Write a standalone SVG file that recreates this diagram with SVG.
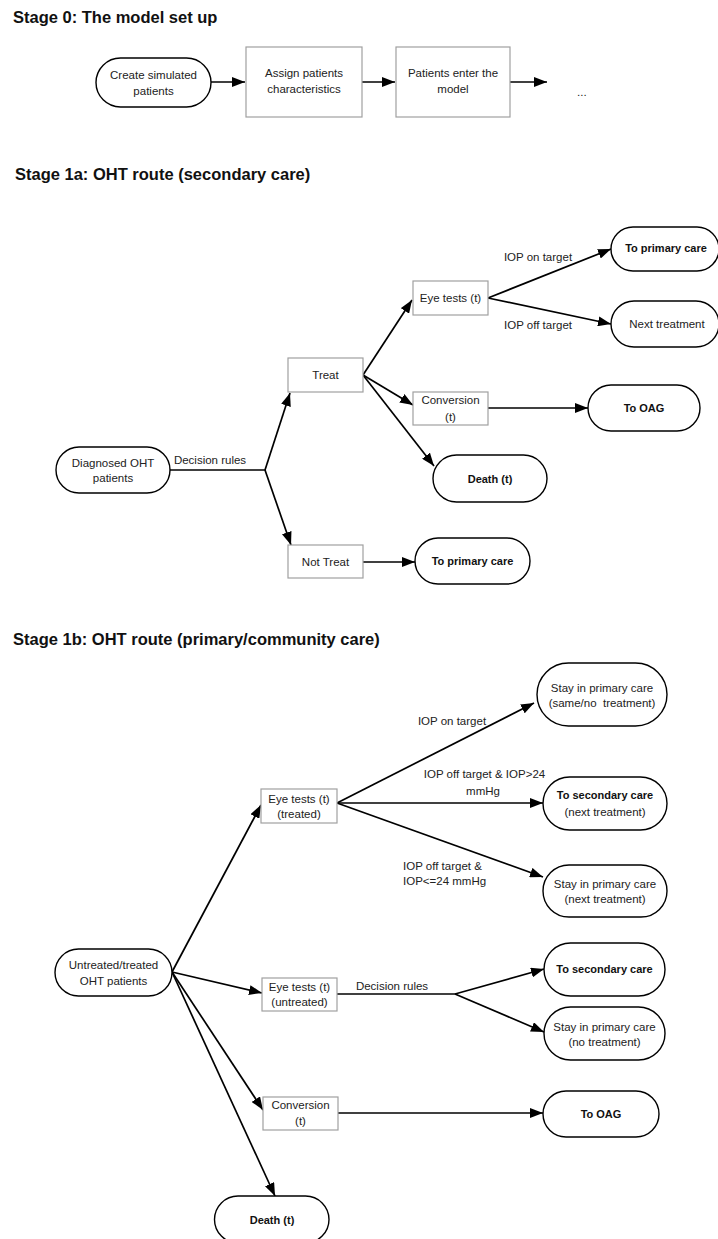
<svg xmlns="http://www.w3.org/2000/svg" width="718" height="1239" viewBox="0 0 718 1239">
<style>
text{font-family:"Liberation Sans",Arial,sans-serif;fill:#222}
.t{font-size:16.5px;font-weight:bold;fill:#111}
.r{font-size:11.5px;text-anchor:middle}
.l{font-size:11.5px}
.b{font-size:11px;font-weight:bold;text-anchor:middle;fill:#111}
.st{fill:#fff;stroke:#000;stroke-width:1.4}
.bx{fill:#fff;stroke:#a0a0a0;stroke-width:1.2}
.c line{stroke:#000;stroke-width:1.7;fill:none}
.a{marker-end:url(#ah)}
</style>
<defs>
<marker id="ah" markerUnits="userSpaceOnUse" markerWidth="13" markerHeight="10" refX="13" refY="5" orient="auto">
<path d="M0,0 L13,5 L0,10 z" fill="#000"/>
</marker>
</defs>
<rect width="718" height="1239" fill="#fff"/>

<text class="t" x="13" y="23">Stage 0: The model set up</text>
<text class="t" x="15" y="180">Stage 1a: OHT route (secondary care)</text>
<text class="t" x="13" y="645">Stage 1b: OHT route (primary/community care)</text>

<g class="c" id="connectors">
<line class="a" x1="211" y1="82" x2="245" y2="82"/>
<line class="a" x1="362" y1="82" x2="395" y2="82"/>
<line class="a" x1="510" y1="82" x2="547" y2="82"/>
<line x1="170" y1="470" x2="265" y2="470"/>
<line class="a" x1="265" y1="470" x2="290" y2="393"/>
<line class="a" x1="265" y1="470" x2="291" y2="545"/>
<line class="a" x1="363" y1="375" x2="412" y2="300"/>
<line class="a" x1="363" y1="375" x2="413" y2="405"/>
<line class="a" x1="363" y1="375" x2="434" y2="466"/>
<line class="a" x1="488" y1="298" x2="611" y2="249"/>
<line class="a" x1="488" y1="298" x2="611" y2="324"/>
<line class="a" x1="488" y1="408" x2="588" y2="408"/>
<line class="a" x1="363" y1="562" x2="415" y2="562"/>
<line class="a" x1="172" y1="972" x2="261" y2="805"/>
<line class="a" x1="172" y1="972" x2="262" y2="993"/>
<line class="a" x1="172" y1="972" x2="263" y2="1110"/>
<line class="a" x1="172" y1="972" x2="275" y2="1196"/>
<line class="a" x1="337" y1="803" x2="534" y2="703"/>
<line class="a" x1="337" y1="803" x2="543" y2="803"/>
<line class="a" x1="337" y1="803" x2="543" y2="877"/>
<line x1="337" y1="994" x2="455" y2="994"/>
<line class="a" x1="455" y1="994" x2="544" y2="969"/>
<line class="a" x1="455" y1="994" x2="544" y2="1032"/>
<line class="a" x1="338" y1="1113" x2="543" y2="1113"/>
</g>

<g id="labels">
<text class="l" x="577" y="96">...</text>
<text class="r" x="210" y="464">Decision rules</text>
<text class="r" x="538" y="261">IOP on target</text>
<text class="r" x="538" y="329">IOP off target</text>
<text class="r" x="452" y="725">IOP on target</text>
<text class="r" x="484.5" y="778">IOP off target &amp; IOP&gt;24</text>
<text class="r" x="483" y="795">mmHg</text>
<text class="l" x="403" y="870">IOP off target &amp;</text>
<text class="l" x="403" y="885">IOP&lt;=24 mmHg</text>
<text class="r" x="392" y="990">Decision rules</text>
</g>

<g id="create-simulated">
<rect class="st" x="96" y="58" width="115" height="49" rx="24.5"/>
<text class="r" x="153.5" y="79">Create simulated</text>
<text class="r" x="153.5" y="95">patients</text>
</g>
<g id="assign-characteristics">
<rect class="bx" x="246" y="47" width="116" height="70"/>
<text class="r" x="304" y="77">Assign patients</text>
<text class="r" x="304" y="93">characteristics</text>
</g>
<g id="patients-enter">
<rect class="bx" x="396" y="47" width="114" height="70"/>
<text class="r" x="453" y="77">Patients enter the</text>
<text class="r" x="453" y="93">model</text>
</g>

<g id="diagnosed-oht">
<rect class="st" x="56" y="447" width="114" height="46" rx="23"/>
<text class="r" x="113" y="467">Diagnosed OHT</text>
<text class="r" x="113" y="482">patients</text>
</g>
<g id="treat">
<rect class="bx" x="288" y="358" width="75" height="34"/>
<text class="r" x="325.5" y="379">Treat</text>
</g>
<g id="not-treat">
<rect class="bx" x="288" y="545" width="75" height="33"/>
<text class="r" x="325.5" y="566">Not Treat</text>
</g>
<g id="primary-care-1a-bottom">
<rect class="st" x="415" y="538" width="115" height="46" rx="23"/>
<text class="b" x="472.5" y="565">To primary care</text>
</g>
<g id="eye-tests-1a">
<rect class="bx" x="413" y="281" width="75" height="34"/>
<text class="r" x="450.5" y="302">Eye tests (t)</text>
</g>
<g id="conversion-1a">
<rect class="bx" x="413" y="392" width="75" height="33"/>
<text class="r" x="450.5" y="404">Conversion</text>
<text class="r" x="450.5" y="421">(t)</text>
</g>
<g id="death-1a">
<rect class="st" x="433" y="455" width="114" height="47" rx="23.5"/>
<text class="b" x="490" y="483">Death (t)</text>
</g>
<g id="oag-1a">
<rect class="st" x="588" y="385" width="112" height="46" rx="23"/>
<text class="b" x="644" y="412">To OAG</text>
</g>
<g id="primary-care-1a-top">
<rect class="st" x="611" y="227" width="108" height="44" rx="22"/>
<text class="b" x="666" y="252">To primary care</text>
</g>
<g id="next-treatment-1a">
<rect class="st" x="611" y="301" width="108" height="46" rx="23"/>
<text class="r" x="667" y="328">Next treatment</text>
</g>

<g id="untreated-treated-oht">
<rect class="st" x="55" y="949" width="117" height="47" rx="23.5"/>
<text class="r" x="113.5" y="969">Untreated/treated</text>
<text class="r" x="113.5" y="985">OHT patients</text>
</g>
<g id="eye-tests-treated">
<rect class="bx" x="261" y="789" width="76" height="34"/>
<text class="r" x="299" y="803">Eye tests (t)</text>
<text class="r" x="299" y="818">(treated)</text>
</g>
<g id="stay-same-no">
<rect class="st" x="537" y="663" width="130" height="63" rx="31.5"/>
<text class="r" x="602" y="692">Stay in primary care</text>
<text class="r" x="602" y="707" xml:space="preserve">(same/no  treatment)</text>
</g>
<g id="secondary-next">
<rect class="st" x="543" y="777" width="124" height="53" rx="26.5"/>
<text class="b" x="605" y="799">To secondary care</text>
<text class="r" x="605" y="816">(next treatment)</text>
</g>
<g id="stay-next">
<rect class="st" x="543" y="865" width="124" height="52" rx="26"/>
<text class="r" x="605" y="888">Stay in primary care</text>
<text class="r" x="605" y="903">(next treatment)</text>
</g>
<g id="eye-tests-untreated">
<rect class="bx" x="262" y="978" width="75" height="33"/>
<text class="r" x="299.5" y="991">Eye tests (t)</text>
<text class="r" x="299.5" y="1006">(untreated)</text>
</g>
<g id="secondary-1b">
<rect class="st" x="544" y="943" width="121" height="53" rx="26.5"/>
<text class="b" x="604.5" y="973">To secondary care</text>
</g>
<g id="stay-no-treatment">
<rect class="st" x="544" y="1007" width="121" height="53" rx="26.5"/>
<text class="r" x="604.5" y="1031">Stay in primary care</text>
<text class="r" x="604.5" y="1046">(no treatment)</text>
</g>
<g id="conversion-1b">
<rect class="bx" x="263" y="1097" width="75" height="33"/>
<text class="r" x="300.5" y="1109">Conversion</text>
<text class="r" x="300.5" y="1125">(t)</text>
</g>
<g id="oag-1b">
<rect class="st" x="543" y="1091" width="116" height="46" rx="23"/>
<text class="b" x="601" y="1118">To OAG</text>
</g>
<g id="death-1b">
<rect class="st" x="214.5" y="1196" width="114.5" height="47" rx="23.5"/>
<text class="b" x="272" y="1224">Death (t)</text>
</g>
</svg>
